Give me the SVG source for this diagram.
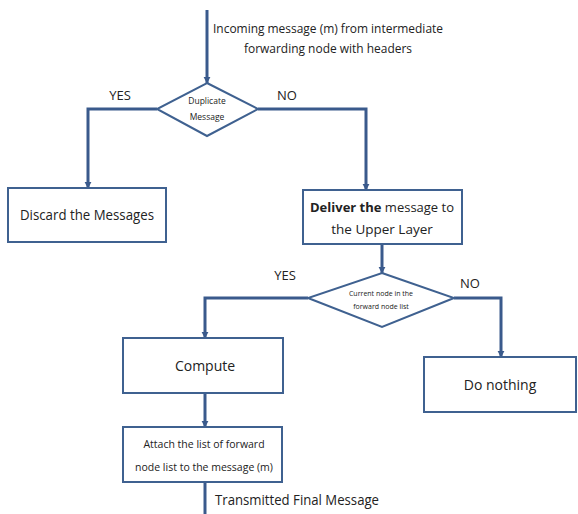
<svg xmlns="http://www.w3.org/2000/svg" width="578" height="514" viewBox="0 0 578 514">
<style>
.conn{fill:none;stroke:#3a5a8c;stroke-width:3;}
.box{fill:#fff;stroke:#3f6190;stroke-width:2;}
.t{font-family:"Open Sans","Liberation Sans",sans-serif;fill:#222;text-anchor:middle;}
</style>
<defs>
<marker id="ah" viewBox="0 0 10 10" refX="9" refY="5" markerWidth="2.4" markerHeight="2.4" orient="auto" markerUnits="strokeWidth">
<path d="M0,0 L10,5 L0,10 z" fill="#3a5a8c"/>
</marker>
</defs>
<rect width="578" height="514" fill="#fff"/>
<g id="connectors">
<path class="conn" d="M207,10 V83" marker-end="url(#ah)"/>
<path class="conn" d="M157,109 H88 V188" marker-end="url(#ah)"/>
<path class="conn" d="M258,109 H366 V190" marker-end="url(#ah)"/>
<path class="conn" d="M382,244 V273" marker-end="url(#ah)"/>
<path class="conn" d="M454,298 H501 V357" marker-end="url(#ah)"/>
<path class="conn" d="M308,298 H205 V338" marker-end="url(#ah)"/>
<path class="conn" d="M205,393 V427" marker-end="url(#ah)"/>
<path class="conn" d="M205,482 V514"/>
</g>
<g id="incoming">
<text class="t" x="328" y="33" font-size="12.5" textLength="230" lengthAdjust="spacingAndGlyphs">Incoming message (m) from intermediate</text>
<text class="t" x="328" y="53" font-size="12.5" textLength="168" lengthAdjust="spacingAndGlyphs">forwarding node with headers</text>
</g>
<g id="duplicate">
<polygon class="box" points="207,83 258,109 207,136 157,109"/>
<text class="t" x="207" y="104" font-size="8.5">Duplicate</text>
<text class="t" x="207" y="120" font-size="8.5">Message</text>
</g>
<g id="labels1">
<text class="t" x="120" y="100" font-size="13">YES</text>
<text class="t" x="287" y="100" font-size="13">NO</text>
</g>
<g id="discard">
<rect class="box" x="8" y="188" width="158" height="54"/>
<text class="t" x="87" y="220" font-size="14" textLength="134" lengthAdjust="spacingAndGlyphs">Discard the Messages</text>
</g>
<g id="deliver">
<rect class="box" x="303" y="190" width="159" height="54"/>
<text class="t" x="382" y="212" font-size="13"><tspan font-weight="bold">Deliver the</tspan> message to</text>
<text class="t" x="382" y="234" font-size="13.5">the Upper Layer</text>
</g>
<g id="current">
<polygon class="box" points="382,273 454,298 382,327 308,298"/>
<text class="t" x="381" y="296" font-size="7">Current node in the</text>
<text class="t" x="381" y="309" font-size="7">forward node list</text>
</g>
<g id="labels2">
<text class="t" x="285" y="280" font-size="13">YES</text>
<text class="t" x="470" y="288" font-size="13">NO</text>
</g>
<g id="compute">
<rect class="box" x="123" y="338" width="160" height="55"/>
<text class="t" x="205" y="371" font-size="14">Compute</text>
</g>
<g id="donothing">
<rect class="box" x="424" y="357" width="152" height="55"/>
<text class="t" x="500" y="390" font-size="14">Do nothing</text>
</g>
<g id="attach">
<rect class="box" x="123" y="427" width="159" height="55"/>
<text class="t" x="204" y="448" font-size="10.5">Attach the list of forward</text>
<text class="t" x="204" y="471" font-size="10.5">node list to the message (m)</text>
</g>
<g id="final">
<text class="t" x="215" y="505" font-size="14" style="text-anchor:start" textLength="164" lengthAdjust="spacingAndGlyphs">Transmitted Final Message</text>
</g>
</svg>
